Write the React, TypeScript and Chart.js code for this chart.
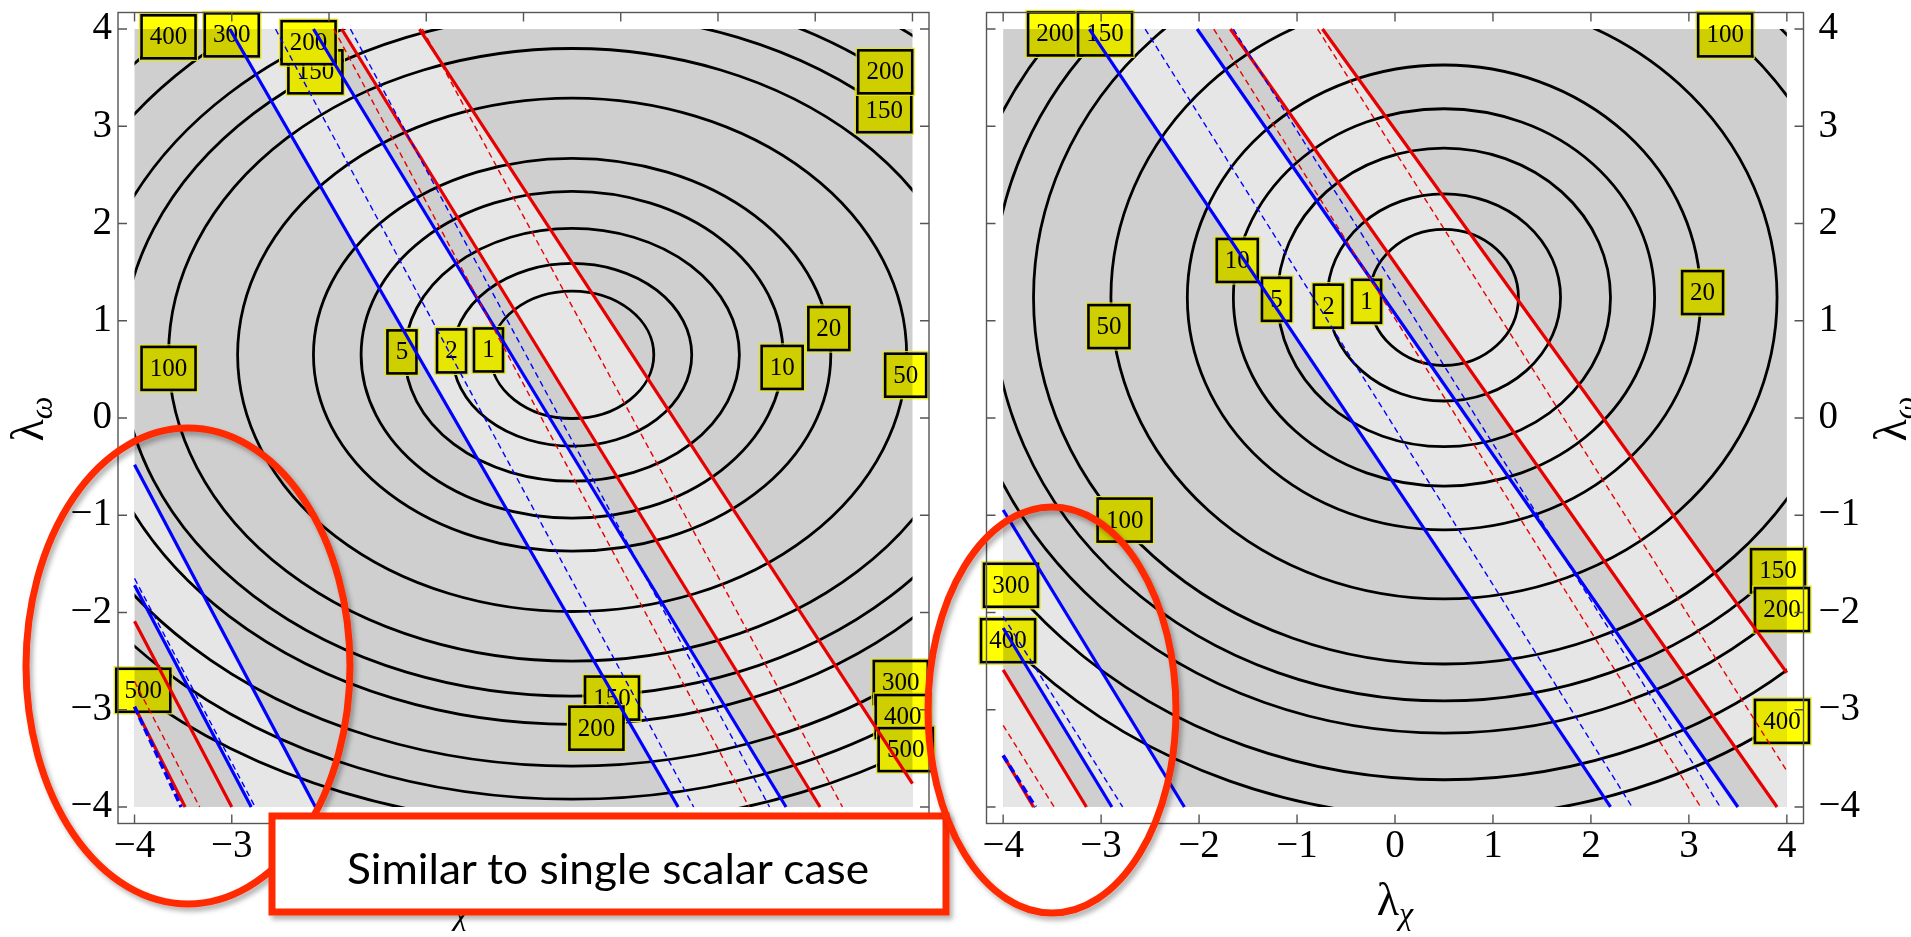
import React, { useEffect, useRef } from 'react';
import { Chart, registerables } from 'chart.js';

Chart.register(...registerables);

// ---------- data ----------
const TICKS = [-4, -3, -2, -1, 0, 1, 2, 3, 4];
const AXIS_MIN = -4.17;
const AXIS_MAX = 4.17;

// contour levels 1,2,5,10,20,50,100,150,200,300,400,500 (ellipse centre + radii)
const LEFT_CENTER = [0.5, 0.65];
const LEFT_RX = [0.84, 1.23, 1.72, 2.17, 2.66, 3.44, 4.15, 4.63, 4.99, 5.55, 5.96, 6.41];
const LEFT_RY = [0.655, 0.94, 1.3, 1.68, 2.02, 2.64, 3.15, 3.51, 3.8, 4.23, 4.57, 4.84];

const RIGHT_CENTER = [0.5, 1.24];
const RIGHT_RX = [0.76, 1.19, 1.7, 2.15, 2.62, 3.4, 4.19, 4.61, 4.98, 5.51, 5.94];
const RIGHT_RY = [0.7, 1.065, 1.535, 1.94, 2.39, 3.1, 3.77, 4.15, 4.48, 4.96, 5.35];

// contour labels
const LEFT_LABEL_TEXT = ['400', '300', '150', '200', '150', '200', '100', '5', '2', '1', '10', '20', '50', '500', '150', '200', '300', '400', '500'];
const LEFT_LABEL_X = [-3.65, -3.0, -2.14, -2.21, 3.71, 3.72, -3.65, -1.25, -0.74, -0.36, 2.66, 3.14, 3.93, -3.91, 0.91, 0.75, 3.88, 3.9, 3.93];
const LEFT_LABEL_Y = [3.92, 3.94, 3.56, 3.86, 3.16, 3.56, 0.51, 0.68, 0.69, 0.7, 0.52, 0.92, 0.44, -2.8, -2.88, -3.19, -2.72, -3.07, -3.41];

const RIGHT_LABEL_TEXT = ['200', '150', '100', '50', '10', '5', '2', '1', '20', '100', '300', '400', '150', '200', '400'];
const RIGHT_LABEL_X = [-3.47, -2.96, 3.37, -2.92, -1.61, -1.21, -0.68, -0.29, 3.14, -2.76, -3.92, -3.95, 3.91, 3.95, 3.95];
const RIGHT_LABEL_Y = [3.95, 3.95, 3.94, 0.94, 1.62, 1.22, 1.15, 1.2, 1.29, -1.05, -1.72, -2.29, -1.57, -1.97, -3.12];

// straight lines [x1, y1, x2, y2]
const LEFT_BLUE_SOLID = [[-3.02, 4, 1.59, -4], [-2.16, 4, 2.7, -4], [-4, -0.48, -2.14, -4], [-4, -1.72, -2.8, -4]];
const LEFT_BLUE_DASHED = [[-2.55, 4, 1.75, -4], [-1.78, 4, 2.53, -4], [-4, -1.65, -2.76, -4]];
const LEFT_BLUE_THICK = [[-4, -2.97, -3.52, -4]];
const LEFT_RED_SOLID = [[-1.87, 4, 3.05, -4], [-1.07, 4, 4, -3.76], [-4, -2.09, -3.0, -4], [-4, -2.97, -3.48, -4]];
const LEFT_RED_DASHED = [[-1.95, 4, 2.32, -4], [-1.04, 4, 3.28, -4], [-4, -2.71, -3.33, -4]];

const RIGHT_BLUE_SOLID = [[-3.12, 4, 2.2, -4], [-2.02, 4, 3.5, -4], [-4, -0.946, -2.15, -4], [-4, -2.16, -2.89, -4]];
const RIGHT_BLUE_DASHED = [[-2.55, 4, 2.42, -4], [-1.65, 4, 3.32, -4], [-4, -2.04, -2.78, -4]];
const RIGHT_BLUE_THICK = [[-4, -3.47, -3.67, -4]];
const RIGHT_RED_SOLID = [[-1.68, 4, 3.9, -4], [-0.74, 4, 4, -2.62], [-4, -2.59, -3.15, -4], [-4, -3.47, -3.69, -4]];
const RIGHT_RED_DASHED = [[-1.85, 4, 3.12, -4], [-0.79, 4, 4, -3.63], [-4, -3.16, -3.48, -4]];

// light (allowed) regions
const LEFT_LIGHT = [
  [[-3.02, 4], [-2.16, 4], [2.7, -4], [1.59, -4]],
  [[-1.87, 4], [-1.07, 4], [4, -3.76], [4, -4], [3.05, -4]],
  [[-4, -0.48], [-2.14, -4], [-2.8, -4], [-4, -1.72]],
  [[-4, -2.97], [-3.48, -4], [-4, -4]],
];
const RIGHT_LIGHT = [
  [[-3.12, 4], [-2.02, 4], [3.5, -4], [2.2, -4]],
  [[-1.68, 4], [-0.74, 4], [4, -2.62], [4, -4], [3.9, -4]],
  [[-4, -0.946], [-2.15, -4], [-2.89, -4], [-4, -2.16]],
  [[-4, -2.59], [-3.15, -4], [-3.69, -4], [-4, -3.47]],
  [[-4, -3.47], [-3.69, -4], [-4, -4]],
];

// ---------- styles ----------
const SERIF = '"Liberation Serif", "DejaVu Serif", serif';
const BLUE = '#0000ff';
const RED = '#e60000';
const GRAY = '#cfcfcf';
const LIGHT = '#e6e6e6';
const H = 937;

type Seg = number[];
interface PanelCfg {
  center: number[];
  rx: number[];
  ry: number[];
  light: number[][][];
  labelText: string[];
  labelX: number[];
  labelY: number[];
  blueSolid: Seg[];
  blueDashed: Seg[];
  blueThick: Seg[];
  redSolid: Seg[];
  redDashed: Seg[];
  yPos: 'left' | 'right';
  width: number;
  pad: { top: number; left: number; right: number; bottom: number };
  yWidth: number;
  xHeight: number;
  yPad: number;
  yTitle: number[];
  xTitle: number[];
}

const fmt = (v: number) => (v < 0 ? '\u2212' + Math.abs(v) : String(v));

function paintBackground(ctx: CanvasRenderingContext2D, px: (v: number) => number, py: (v: number) => number, cfg: PanelCfg) {
  const x0 = px(-4), x1 = px(4), y0 = py(4), y1 = py(-4);
  ctx.fillStyle = GRAY;
  ctx.fillRect(x0, y0, x1 - x0, y1 - y0);
  ctx.fillStyle = LIGHT;
  for (const poly of cfg.light) {
    ctx.beginPath();
    poly.forEach(([x, y], i) => (i ? ctx.lineTo(px(x), py(y)) : ctx.moveTo(px(x), py(y))));
    ctx.closePath();
    ctx.fill();
  }
}

function drawLambda(ctx: CanvasRenderingContext2D, x: number, y: number, sub: string, rotate: boolean) {
  ctx.save();
  ctx.translate(x, y);
  if (rotate) ctx.rotate(-Math.PI / 2);
  ctx.fillStyle = '#000';
  ctx.textBaseline = 'alphabetic';
  ctx.textAlign = 'left';
  const f1 = `46px ${SERIF}`;
  const f2 = `italic 32px ${SERIF}`;
  ctx.font = f1;
  const w1 = ctx.measureText('\u03bb').width;
  ctx.font = f2;
  const w2 = ctx.measureText(sub).width;
  const x0 = -(w1 + w2) / 2;
  ctx.font = f1;
  ctx.fillText('\u03bb', x0, 0);
  ctx.font = f2;
  ctx.fillText(sub, x0 + w1, 9);
  ctx.restore();
}

function makePlugin(cfg: PanelCfg) {
  return {
    id: 'panelDecor',
    beforeDatasetsDraw(chart: any) {
      const { ctx, scales } = chart;
      const px = (v: number) => scales.x.getPixelForValue(v);
      const py = (v: number) => scales.y.getPixelForValue(v);
      ctx.save();
      paintBackground(ctx, px, py, cfg);
      // contours
      ctx.save();
      ctx.beginPath();
      ctx.rect(px(-4), py(4), px(4) - px(-4), py(-4) - py(4));
      ctx.clip();
      ctx.strokeStyle = '#000';
      ctx.lineWidth = 2.8;
      const [cx, cy] = cfg.center;
      cfg.rx.forEach((rx, i) => {
        const ry = cfg.ry[i];
        ctx.beginPath();
        ctx.ellipse(px(cx), py(cy), Math.abs(px(cx + rx) - px(cx)), Math.abs(py(cy + ry) - py(cy)), 0, 0, Math.PI * 2);
        ctx.stroke();
      });
      ctx.restore();
      // labels
      cfg.labelText.forEach((t, i) => {
        const w = t.length === 1 ? 29 : t.length === 2 ? 41 : 54;
        const h = 43;
        const bx = px(cfg.labelX[i]) - w / 2;
        const by = py(cfg.labelY[i]) - h / 2;
        ctx.save();
        ctx.beginPath();
        ctx.rect(bx, by, w, h);
        ctx.clip();
        ctx.fillStyle = '#ffffff';
        ctx.fillRect(bx, by, w, h);
        paintBackground(ctx, px, py, cfg);
        ctx.globalCompositeOperation = 'multiply';
        ctx.fillStyle = '#ffff00';
        ctx.fillRect(bx, by, w, h);
        ctx.restore();
        ctx.strokeStyle = '#e8e800';
        ctx.lineWidth = 1.2;
        ctx.strokeRect(bx - 2, by - 2, w + 4, h + 4);
        ctx.strokeStyle = '#000';
        ctx.lineWidth = 2.6;
        ctx.strokeRect(bx, by, w, h);
        ctx.fillStyle = '#000';
        ctx.font = `25px ${SERIF}`;
        ctx.textAlign = 'center';
        ctx.textBaseline = 'middle';
        ctx.fillText(t, bx + w / 2, by + h / 2 + 1);
      });
      ctx.restore();
    },
    afterDraw(chart: any) {
      const { ctx, chartArea, scales } = chart;
      const px = (v: number) => scales.x.getPixelForValue(v);
      const py = (v: number) => scales.y.getPixelForValue(v);
      const { left, right, top, bottom } = chartArea;
      ctx.save();
      ctx.strokeStyle = '#555';
      ctx.lineWidth = 1.4;
      ctx.strokeRect(left, top, right - left, bottom - top);
      const tl = 9;
      ctx.beginPath();
      TICKS.forEach((v) => {
        const X = px(v);
        ctx.moveTo(X, bottom); ctx.lineTo(X, bottom - tl);
        ctx.moveTo(X, top); ctx.lineTo(X, top + tl);
        const Y = py(v);
        ctx.moveTo(left, Y); ctx.lineTo(left + tl, Y);
        ctx.moveTo(right, Y); ctx.lineTo(right - tl, Y);
      });
      ctx.stroke();
      ctx.restore();
      drawLambda(ctx, cfg.yTitle[0], cfg.yTitle[1], '\u03c9', true);
      drawLambda(ctx, cfg.xTitle[0], cfg.xTitle[1], '\u03c7', false);
    },
  };
}

function segDatasets(cfg: PanelCfg) {
  const out: any[] = [];
  const add = (segs: Seg[], color: string, width: number, dash: number[]) =>
    segs.forEach((s) =>
      out.push({
        data: [{ x: s[0], y: s[1] }, { x: s[2], y: s[3] }],
        showLine: true,
        borderColor: color,
        backgroundColor: color,
        borderWidth: width,
        borderDash: dash,
        borderCapStyle: 'butt',
        pointRadius: 0,
        pointHoverRadius: 0,
        fill: false,
        clip: 0,
      })
    );
  add(cfg.blueThick, BLUE, 3.6, [8, 4]);
  add(cfg.blueDashed, BLUE, 1.4, [6, 4]);
  add(cfg.redDashed, RED, 1.4, [6, 4]);
  add(cfg.blueSolid, BLUE, 3.2, []);
  add(cfg.redSolid, RED, 3.2, []);
  return out;
}

function Panel({ cfg, left }: { cfg: PanelCfg; left: number }) {
  const ref = useRef<HTMLCanvasElement>(null);
  useEffect(() => {
    const tickFont = { family: SERIF, size: 39 };
    const chart = new Chart(ref.current as HTMLCanvasElement, {
      type: 'scatter',
      data: { datasets: segDatasets(cfg) },
      options: {
        animation: false,
        responsive: false,
        maintainAspectRatio: false,
        events: [],
        layout: { padding: cfg.pad },
        plugins: { legend: { display: false }, tooltip: { enabled: false } },
        scales: {
          x: {
            type: 'linear',
            position: 'bottom',
            min: AXIS_MIN,
            max: AXIS_MAX,
            grid: { display: false, drawTicks: false },
            border: { display: false },
            ticks: { autoSkip: false, maxRotation: 0, minRotation: 0, padding: 0, color: '#000', font: tickFont, callback: (v: any) => fmt(Number(v)) },
            afterBuildTicks: (s: any) => { s.ticks = TICKS.map((v) => ({ value: v })); },
            afterFit: (s: any) => { s.height = cfg.xHeight; s.paddingLeft = 0; s.paddingRight = 0; },
          },
          y: {
            type: 'linear',
            position: cfg.yPos,
            min: AXIS_MIN,
            max: AXIS_MAX,
            grid: { display: false, drawTicks: false },
            border: { display: false },
            ticks: { autoSkip: false, padding: cfg.yPad, color: '#000', font: tickFont, callback: (v: any) => fmt(Number(v)) },
            afterBuildTicks: (s: any) => { s.ticks = TICKS.map((v) => ({ value: v })); },
            afterFit: (s: any) => { s.width = cfg.yWidth; s.paddingTop = 0; s.paddingBottom = 0; },
          },
        },
      } as any,
      plugins: [makePlugin(cfg) as any],
    });
    let alive = true;
    if ((document as any).fonts && (document as any).fonts.load) {
      Promise.all([
        (document as any).fonts.load(`25px "Liberation Serif"`),
        (document as any).fonts.load(`italic 32px "Liberation Serif"`),
      ]).then(() => { if (alive) chart.update(); }).catch(() => {});
    }
    return () => { alive = false; chart.destroy(); };
  }, []);
  return (
    <canvas
      ref={ref}
      width={cfg.width}
      height={H}
      style={{ position: 'absolute', left, top: 0, width: cfg.width, height: H }}
    />
  );
}

const LEFT_CFG: PanelCfg = {
  center: LEFT_CENTER, rx: LEFT_RX, ry: LEFT_RY, light: LEFT_LIGHT,
  labelText: LEFT_LABEL_TEXT, labelX: LEFT_LABEL_X, labelY: LEFT_LABEL_Y,
  blueSolid: LEFT_BLUE_SOLID, blueDashed: LEFT_BLUE_DASHED, blueThick: LEFT_BLUE_THICK,
  redSolid: LEFT_RED_SOLID, redDashed: LEFT_RED_DASHED,
  yPos: 'left', width: 960,
  pad: { top: 12.5, left: 0, right: 31, bottom: 0 },
  yWidth: 118, xHeight: 113.5, yPad: 6,
  yTitle: [43, 419], xTitle: [450, 915],
};

const RIGHT_CFG: PanelCfg = {
  center: RIGHT_CENTER, rx: RIGHT_RX, ry: RIGHT_RY, light: RIGHT_LIGHT,
  labelText: RIGHT_LABEL_TEXT, labelX: RIGHT_LABEL_X, labelY: RIGHT_LABEL_Y,
  blueSolid: RIGHT_BLUE_SOLID, blueDashed: RIGHT_BLUE_DASHED, blueThick: RIGHT_BLUE_THICK,
  redSolid: RIGHT_RED_SOLID, redDashed: RIGHT_RED_DASHED,
  yPos: 'right', width: 951,
  pad: { top: 12.5, left: 26.5, right: 0, bottom: 0 },
  yWidth: 107.5, xHeight: 113.5, yPad: 15,
  yTitle: [946, 419], xTitle: [435, 915],
};

export default function App() {
  const ann = '#ff2a00';
  return (
    <div style={{ position: 'absolute', left: 0, top: 0, width: 1911, height: H, overflow: 'hidden', background: '#fff' }}>
      <Panel cfg={LEFT_CFG} left={0} />
      <Panel cfg={RIGHT_CFG} left={960} />
      <svg width={1911} height={H} style={{ position: 'absolute', left: 0, top: 0, pointerEvents: 'none' }}>
        <defs>
          <filter id="sh" x="-20%" y="-20%" width="140%" height="140%">
            <feDropShadow dx="3" dy="4" stdDeviation="2.5" floodColor="#000" floodOpacity="0.3" />
          </filter>
        </defs>
        <ellipse cx={188} cy={666} rx={162} ry={238} fill="none" stroke={ann} strokeWidth={7} filter="url(#sh)" />
        <rect x={272} y={816} width={674} height={96} fill="#fff" stroke={ann} strokeWidth={7} filter="url(#sh)" />
        <text x={608} y={884} fontFamily="Lato, 'Open Sans', sans-serif" fontSize={42} textAnchor="middle" textLength={522} lengthAdjust="spacingAndGlyphs" fill="#000">
          Similar to single scalar case
        </text>
        <ellipse cx={1052} cy={710} rx={124} ry={203} fill="none" stroke={ann} strokeWidth={7} filter="url(#sh)" />
      </svg>
    </div>
  );
}
